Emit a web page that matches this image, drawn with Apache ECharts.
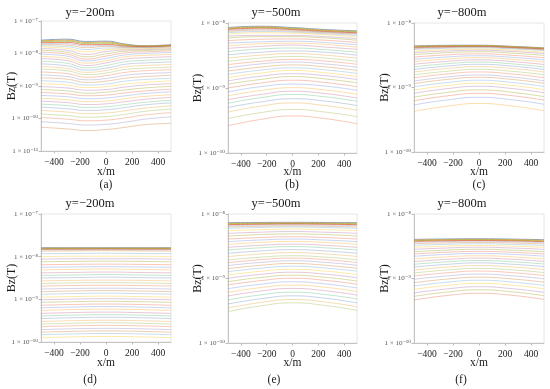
<!DOCTYPE html>
<html><head><meta charset="utf-8">
<script src="https://cdn.jsdelivr.net/npm/echarts@6/dist/echarts.min.js"></script>
<style>html,body{margin:0;padding:0;background:#fff}#c{width:550px;height:389px}</style>
</head><body><div id="c"></div>
<script>
// x positions (m) of the sampled points
const xPosA = [-500,-300,-150,0,150,300,500];
const xPos = [-500,-250,0,250,500];
const xTicks = [-400,-200,0,200,400];
const panelTitles = ['y=\u2212200m','y=\u2212500m','y=\u2212800m','y=\u2212200m','y=\u2212500m','y=\u2212800m'];
const panelLetters = ['(a)','(b)','(c)','(d)','(e)','(f)'];
const yMinExp = [-11,-10,-10,-10,-10,-10];
const yMaxExp = [-7,-8,-8,-7,-8,-8];

// log10(Bz) per time channel
const bzA = [
[-7.59,-7.56,-7.63,-7.62,-7.71,-7.76,-7.73],
[-7.61,-7.59,-7.66,-7.65,-7.73,-7.77,-7.74],
[-7.63,-7.62,-7.69,-7.68,-7.75,-7.78,-7.75],
[-7.66,-7.66,-7.73,-7.72,-7.77,-7.79,-7.76],
[-7.69,-7.70,-7.77,-7.75,-7.79,-7.80,-7.77],
[-7.72,-7.74,-7.82,-7.78,-7.81,-7.81,-7.78],
[-7.76,-7.79,-7.88,-7.83,-7.83,-7.83,-7.80],
[-7.80,-7.84,-7.95,-7.88,-7.86,-7.85,-7.82],
[-7.85,-7.90,-8.03,-7.94,-7.89,-7.88,-7.85],
[-7.90,-7.96,-8.10,-8.01,-7.93,-7.91,-7.88],
[-7.96,-8.02,-8.17,-8.08,-7.98,-7.95,-7.92],
[-8.02,-8.08,-8.23,-8.15,-8.04,-8.00,-7.97],
[-8.09,-8.15,-8.30,-8.22,-8.10,-8.06,-8.03],
[-8.16,-8.22,-8.37,-8.29,-8.17,-8.13,-8.10],
[-8.24,-8.30,-8.44,-8.37,-8.25,-8.21,-8.18],
[-8.32,-8.38,-8.51,-8.45,-8.33,-8.29,-8.26],
[-8.40,-8.46,-8.58,-8.52,-8.41,-8.37,-8.34],
[-8.48,-8.53,-8.65,-8.60,-8.49,-8.45,-8.42],
[-8.57,-8.62,-8.73,-8.68,-8.58,-8.53,-8.50],
[-8.66,-8.71,-8.81,-8.77,-8.67,-8.62,-8.59],
[-8.75,-8.79,-8.89,-8.85,-8.76,-8.71,-8.67],
[-8.84,-8.88,-8.97,-8.94,-8.85,-8.80,-8.76],
[-8.93,-8.97,-9.05,-9.02,-8.94,-8.89,-8.84],
[-9.02,-9.06,-9.13,-9.11,-9.03,-8.97,-8.93],
[-9.11,-9.15,-9.22,-9.19,-9.12,-9.06,-9.01],
[-9.20,-9.24,-9.30,-9.28,-9.21,-9.15,-9.10],
[-9.29,-9.33,-9.39,-9.37,-9.30,-9.23,-9.18],
[-9.38,-9.42,-9.48,-9.46,-9.39,-9.32,-9.27],
[-9.47,-9.51,-9.57,-9.55,-9.48,-9.41,-9.35],
[-9.56,-9.60,-9.66,-9.64,-9.57,-9.50,-9.44],
[-9.65,-9.70,-9.75,-9.73,-9.66,-9.58,-9.52],
[-9.75,-9.80,-9.85,-9.83,-9.76,-9.68,-9.61],
[-9.86,-9.91,-9.96,-9.94,-9.87,-9.78,-9.71],
[-9.97,-10.02,-10.07,-10.05,-9.98,-9.89,-9.82],
[-10.10,-10.15,-10.20,-10.18,-10.11,-10.02,-9.95],
[-10.27,-10.32,-10.37,-10.34,-10.27,-10.19,-10.15]
];
const bzB = [
[-8.07,-8.05,-8.07,-8.10,-8.12],
[-8.08,-8.06,-8.08,-8.11,-8.13],
[-8.09,-8.07,-8.09,-8.12,-8.14],
[-8.10,-8.08,-8.10,-8.13,-8.15],
[-8.115,-8.095,-8.11,-8.14,-8.16],
[-8.13,-8.11,-8.125,-8.15,-8.17],
[-8.15,-8.13,-8.14,-8.165,-8.19],
[-8.17,-8.15,-8.155,-8.18,-8.21],
[-8.20,-8.19,-8.19,-8.21,-8.24],
[-8.23,-8.21,-8.21,-8.23,-8.265],
[-8.27,-8.25,-8.245,-8.265,-8.30],
[-8.31,-8.29,-8.28,-8.30,-8.335],
[-8.35,-8.32,-8.31,-8.33,-8.37],
[-8.39,-8.36,-8.34,-8.37,-8.405],
[-8.44,-8.40,-8.385,-8.41,-8.45],
[-8.49,-8.45,-8.43,-8.45,-8.495],
[-8.54,-8.495,-8.47,-8.495,-8.54],
[-8.59,-8.54,-8.515,-8.54,-8.59],
[-8.64,-8.59,-8.56,-8.585,-8.635],
[-8.69,-8.63,-8.60,-8.63,-8.68],
[-8.74,-8.68,-8.645,-8.675,-8.73],
[-8.79,-8.725,-8.69,-8.72,-8.775],
[-8.84,-8.77,-8.73,-8.765,-8.825],
[-8.89,-8.82,-8.78,-8.81,-8.87],
[-8.94,-8.87,-8.825,-8.86,-8.92],
[-9.00,-8.925,-8.88,-8.915,-8.98],
[-9.06,-8.98,-8.94,-8.97,-9.035],
[-9.12,-9.04,-8.995,-9.03,-9.095],
[-9.18,-9.10,-9.05,-9.085,-9.155],
[-9.235,-9.15,-9.10,-9.135,-9.205],
[-9.30,-9.215,-9.165,-9.20,-9.27],
[-9.37,-9.28,-9.23,-9.27,-9.34],
[-9.47,-9.38,-9.33,-9.37,-9.44],
[-9.58,-9.485,-9.43,-9.47,-9.55]
];
const bzC = [
[-8.355,-8.346,-8.345,-8.362,-8.385],
[-8.362,-8.352,-8.35,-8.366,-8.39],
[-8.37,-8.359,-8.356,-8.372,-8.396],
[-8.378,-8.366,-8.362,-8.378,-8.402],
[-8.386,-8.372,-8.367,-8.383,-8.408],
[-8.395,-8.38,-8.373,-8.39,-8.415],
[-8.41,-8.392,-8.385,-8.401,-8.428],
[-8.436,-8.414,-8.404,-8.422,-8.452],
[-8.46,-8.434,-8.422,-8.441,-8.474],
[-8.49,-8.46,-8.446,-8.466,-8.502],
[-8.528,-8.495,-8.478,-8.5,-8.538],
[-8.564,-8.527,-8.508,-8.531,-8.572],
[-8.60,-8.559,-8.538,-8.562,-8.606],
[-8.64,-8.595,-8.572,-8.597,-8.644],
[-8.68,-8.632,-8.606,-8.633,-8.682],
[-8.72,-8.668,-8.64,-8.668,-8.72],
[-8.76,-8.706,-8.677,-8.705,-8.759],
[-8.805,-8.749,-8.718,-8.748,-8.803],
[-8.85,-8.791,-8.759,-8.79,-8.847],
[-8.90,-8.839,-8.805,-8.837,-8.896],
[-8.94,-8.876,-8.842,-8.874,-8.935],
[-8.99,-8.924,-8.887,-8.921,-8.984],
[-9.04,-8.971,-8.934,-8.968,-9.033],
[-9.09,-9.019,-8.98,-9.015,-9.082],
[-9.15,-9.077,-9.037,-9.073,-9.142],
[-9.205,-9.131,-9.09,-9.126,-9.196],
[-9.27,-9.194,-9.152,-9.189,-9.26],
[-9.37,-9.291,-9.248,-9.286,-9.36]
];
const bzD = [
[-7.79,-7.79,-7.79,-7.79,-7.79],
[-7.80,-7.80,-7.80,-7.80,-7.80],
[-7.81,-7.81,-7.81,-7.81,-7.81],
[-7.825,-7.825,-7.82,-7.825,-7.825],
[-7.84,-7.84,-7.835,-7.84,-7.84],
[-7.87,-7.865,-7.86,-7.865,-7.87],
[-7.93,-7.925,-7.92,-7.925,-7.93],
[-8.00,-7.99,-7.99,-7.99,-8.00],
[-8.06,-8.05,-8.05,-8.05,-8.06],
[-8.12,-8.11,-8.105,-8.11,-8.12],
[-8.19,-8.18,-8.175,-8.18,-8.19],
[-8.25,-8.24,-8.235,-8.24,-8.25],
[-8.31,-8.30,-8.29,-8.30,-8.31],
[-8.38,-8.37,-8.36,-8.37,-8.38],
[-8.44,-8.43,-8.42,-8.43,-8.44],
[-8.50,-8.49,-8.48,-8.49,-8.50],
[-8.57,-8.555,-8.55,-8.555,-8.57],
[-8.63,-8.615,-8.61,-8.615,-8.63],
[-8.69,-8.675,-8.67,-8.675,-8.69],
[-8.76,-8.745,-8.74,-8.745,-8.76],
[-8.82,-8.805,-8.795,-8.805,-8.82],
[-8.88,-8.865,-8.855,-8.865,-8.88],
[-8.95,-8.935,-8.925,-8.935,-8.95],
[-9.01,-8.995,-8.985,-8.995,-9.01],
[-9.07,-9.055,-9.045,-9.055,-9.07],
[-9.14,-9.12,-9.11,-9.12,-9.14],
[-9.20,-9.18,-9.17,-9.18,-9.20],
[-9.26,-9.24,-9.23,-9.24,-9.26],
[-9.33,-9.31,-9.30,-9.31,-9.33],
[-9.39,-9.37,-9.36,-9.37,-9.39],
[-9.45,-9.43,-9.42,-9.43,-9.45],
[-9.52,-9.50,-9.49,-9.50,-9.52],
[-9.58,-9.56,-9.55,-9.56,-9.58],
[-9.64,-9.62,-9.61,-9.62,-9.64],
[-9.71,-9.69,-9.68,-9.69,-9.71],
[-9.77,-9.75,-9.74,-9.75,-9.77],
[-9.83,-9.81,-9.80,-9.81,-9.83],
[-9.90,-9.88,-9.87,-9.88,-9.90]
];
const bzE = [
[-8.134,-8.131,-8.129,-8.131,-8.134],
[-8.145,-8.141,-8.139,-8.141,-8.145],
[-8.155,-8.15,-8.147,-8.15,-8.155],
[-8.165,-8.159,-8.155,-8.159,-8.165],
[-8.18,-8.172,-8.168,-8.172,-8.18],
[-8.20,-8.19,-8.185,-8.19,-8.20],
[-8.222,-8.209,-8.202,-8.209,-8.222],
[-8.258,-8.242,-8.234,-8.242,-8.258],
[-8.30,-8.282,-8.272,-8.282,-8.30],
[-8.341,-8.32,-8.309,-8.32,-8.341],
[-8.388,-8.365,-8.352,-8.365,-8.388],
[-8.429,-8.403,-8.389,-8.403,-8.429],
[-8.47,-8.441,-8.425,-8.441,-8.47],
[-8.517,-8.485,-8.468,-8.485,-8.517],
[-8.558,-8.524,-8.505,-8.524,-8.558],
[-8.61,-8.573,-8.553,-8.572,-8.609],
[-8.66,-8.62,-8.598,-8.619,-8.658],
[-8.713,-8.67,-8.647,-8.668,-8.71],
[-8.755,-8.709,-8.684,-8.707,-8.751],
[-8.80,-8.751,-8.725,-8.749,-8.795],
[-8.848,-8.796,-8.768,-8.794,-8.842],
[-8.894,-8.84,-8.81,-8.836,-8.887],
[-8.946,-8.889,-8.857,-8.885,-8.938],
[-8.997,-8.936,-8.903,-8.932,-8.988],
[-9.049,-8.985,-8.95,-8.981,-9.039],
[-9.10,-9.034,-8.996,-9.028,-9.089],
[-9.158,-9.089,-9.05,-9.083,-9.146],
[-9.214,-9.142,-9.102,-9.135,-9.201],
[-9.271,-9.196,-9.154,-9.189,-9.257],
[-9.333,-9.255,-9.212,-9.248,-9.318],
[-9.395,-9.315,-9.269,-9.305,-9.378],
[-9.457,-9.373,-9.326,-9.364,-9.439],
[-9.514,-9.426,-9.377,-9.417,-9.494]
];
const bzF = [
[-8.393,-8.387,-8.384,-8.389,-8.398],
[-8.403,-8.396,-8.393,-8.398,-8.408],
[-8.413,-8.405,-8.402,-8.408,-8.418],
[-8.424,-8.415,-8.41,-8.417,-8.428],
[-8.439,-8.428,-8.423,-8.43,-8.443],
[-8.46,-8.447,-8.441,-8.449,-8.463],
[-8.486,-8.47,-8.462,-8.471,-8.488],
[-8.517,-8.498,-8.489,-8.499,-8.518],
[-8.548,-8.527,-8.515,-8.527,-8.548],
[-8.584,-8.56,-8.547,-8.56,-8.584],
[-8.62,-8.593,-8.579,-8.593,-8.619],
[-8.656,-8.626,-8.61,-8.625,-8.654],
[-8.698,-8.665,-8.648,-8.664,-8.695],
[-8.739,-8.704,-8.684,-8.702,-8.735],
[-8.78,-8.742,-8.721,-8.739,-8.775],
[-8.822,-8.781,-8.758,-8.778,-8.816],
[-8.868,-8.824,-8.80,-8.821,-8.862],
[-8.915,-8.868,-8.843,-8.865,-8.908],
[-8.961,-8.912,-8.885,-8.908,-8.954],
[-9.013,-8.961,-8.932,-8.957,-9.005],
[-9.065,-9.01,-8.98,-9.006,-9.057],
[-9.116,-9.058,-9.027,-9.054,-9.107],
[-9.168,-9.108,-9.075,-9.103,-9.159],
[-9.225,-9.162,-9.127,-9.157,-9.215],
[-9.277,-9.211,-9.175,-9.206,-9.267],
[-9.333,-9.265,-9.228,-9.26,-9.323]
];

const palette = ['#5E81B5','#E19C24','#8FB032','#EB6235','#8778B3','#C56E1A','#5D9EC7','#FFBF00','#A5609D','#929600','#E95536','#6685D9','#F89F13','#BC5B80','#47B66D'];
const panels = [
  {data: bzA, x: xPosA}, {data: bzB, x: xPos}, {data: bzC, x: xPos},
  {data: bzD, x: xPos}, {data: bzE, x: xPos}, {data: bzF, x: xPos}
];
const gridBoxes = [
  {left:41, top:21, width:130, height:130},
  {left:228, top:23, width:129, height:130},
  {left:414, top:23, width:130, height:129},
  {left:41, top:214, width:130, height:128},
  {left:228, top:214, width:129, height:129},
  {left:414, top:214, width:130, height:129}
];
const SERIF = '"Liberation Serif","DejaVu Serif",serif';
const sup = {'-':'\u207B','0':'\u2070','1':'\u00B9','2':'\u00B2','3':'\u00B3','4':'\u2074','5':'\u2075','6':'\u2076','7':'\u2077','8':'\u2078','9':'\u2079'};
function expLabel(v){
  const e = Math.round(Math.log10(v));
  return '1 \u00D7 10' + String(e).split('').map(c=>sup[c]).join('');
}

const grid = gridBoxes.map(g => Object.assign({show:true, borderColor:'#e6e6e6', borderWidth:1, backgroundColor:'transparent'}, g));
const xAxis = gridBoxes.map((g,i) => ({
  type:'value', gridIndex:i, min:-500, max:500,
  axisLine:{show:true, onZero:false, lineStyle:{color:'#c4c4c4', width:1}},
  axisTick:{show:true, length:2.5, lineStyle:{color:'#bbb'}, customValues:xTicks},
  axisLabel:{show:true, customValues:xTicks, fontFamily:SERIF, fontSize:9.5, color:'#222', margin:6,
    formatter:v => (v<0 ? '\u2212' + Math.abs(v) : String(v))},
  splitLine:{show:false}
}));
const yAxis = gridBoxes.map((g,i) => ({
  type:'log', logBase:10, gridIndex:i, min:Math.pow(10,yMinExp[i]), max:Math.pow(10,yMaxExp[i]),
  axisLine:{show:true, onZero:false, lineStyle:{color:'#c4c4c4', width:1}},
  axisTick:{show:true, length:2.5, lineStyle:{color:'#bbb'}},
  minorTick:{show:false},
  axisLabel:{show:true, fontFamily:SERIF, fontSize:7, color:'#555', margin:3, formatter:expLabel},
  splitLine:{show:false}
}));

const series = [];
panels.forEach((p,i) => {
  p.data.forEach((line,j) => {
    series.push({
      type:'line', xAxisIndex:i, yAxisIndex:i, silent:true, animation:false,
      symbol:'none', showSymbol:false, smooth:true,
      lineStyle:{width:1, color:palette[j % palette.length], opacity: j < 4 ? 0.75 : 0.34},
      data: line.map((e,k) => [p.x[k], Math.pow(10, e)])
    });
  });
});

const titleX = [90, 276, 462, 90, 276, 462];
const titleY = [13, 13, 13, 204, 204, 204];
const letterX = [106, 292, 479, 90, 274, 461];
const letterY = [185, 185, 185, 380, 380, 380];
const bzX = [12, 198, 385, 12, 198, 385];
const xmY = [172, 172, 172, 363, 363, 363];
const graphic = [];
gridBoxes.forEach((g,i) => {
  const cx = g.left + g.width/2, cy = g.top + g.height/2;
  graphic.push({type:'text', x:titleX[i], y:titleY[i], silent:true,
    style:{text:panelTitles[i], font:'12.5px '+SERIF, fill:'#1a1a1a', align:'center', verticalAlign:'middle', textAlign:'center', textVerticalAlign:'middle'}});
  graphic.push({type:'text', x:letterX[i], y:letterY[i], silent:true,
    style:{text:panelLetters[i], font:'11.5px '+SERIF, fill:'#1a1a1a', align:'center', verticalAlign:'middle', textAlign:'center', textVerticalAlign:'middle'}});
  graphic.push({type:'text', x:cx, y:xmY[i], silent:true,
    style:{text:'x/m', font:'11.5px '+SERIF, fill:'#1a1a1a', align:'center', verticalAlign:'middle', textAlign:'center', textVerticalAlign:'middle'}});
  graphic.push({type:'text', x:bzX[i], y:cy, rotation:Math.PI/2, silent:true,
    style:{text:'Bz(T)', font:'12px '+SERIF, fill:'#1a1a1a', align:'center', verticalAlign:'middle', textAlign:'center', textVerticalAlign:'middle'}});
});

const chart = echarts.init(document.getElementById('c'), null, {renderer:'canvas'});
chart.setOption({animation:false, backgroundColor:'#fff', grid, xAxis, yAxis, series, graphic});
</script>
</body></html>
